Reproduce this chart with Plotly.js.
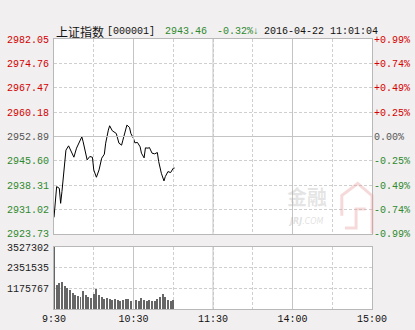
<!DOCTYPE html>
<html>
<head>
<meta charset="utf-8">
<script src="https://cdn.plot.ly/plotly-3.0.1.min.js"></script>
<style>html,body{margin:0;padding:0;background:#f1efef;}#chart{width:415px;height:330px;}</style>
</head>
<body>
<div id="chart"></div>
<script>
// ---- data ----
const priceTimes = ["09:30","09:32","09:34","09:35","09:36","09:38","09:39","09:41","09:43","09:45","09:47","09:49","09:51","09:52","09:54","09:55","09:57","09:59","10:00","10:02","10:04","10:06","10:08","10:09","10:11","10:12","10:14","10:16","10:17","10:19","10:21","10:22","10:24","10:25","10:27","10:28","10:30","10:31","10:33","10:35","10:36","10:38","10:39","10:41","10:42","10:44","10:46","10:48","10:49","10:51","10:53","10:54","10:56","10:58","11:00","11:01"];
const prices = [2928.7,2937.9,2937.4,2932.9,2936.4,2945.9,2948.8,2950.1,2948.3,2946.7,2949.4,2950.9,2952.8,2951.3,2947.9,2945.9,2946.9,2946.7,2942.9,2940.7,2942.9,2946.4,2947.6,2950.9,2954.8,2956.1,2954.6,2954.0,2953.8,2950.9,2950.3,2951.8,2955.3,2956.3,2955.6,2953.8,2952.3,2951.0,2951.1,2949.8,2947.9,2946.5,2949.5,2949.4,2949.6,2947.9,2947.7,2948.1,2945.4,2941.9,2939.6,2940.9,2942.4,2942.1,2943.4,2943.46];
const volTimes = ["09:30","09:32","09:34","09:36","09:38","09:40","09:42","09:44","09:46","09:48","09:50","09:52","09:54","09:56","09:58","10:00","10:02","10:04","10:06","10:08","10:10","10:12","10:14","10:16","10:18","10:20","10:22","10:24","10:26","10:28","10:30","10:32","10:34","10:36","10:38","10:40","10:42","10:44","10:46","10:48","10:50","10:52","10:54","10:56","10:58","11:00"];
const volumes = [3500000,1380000,1480000,1520000,1330000,1190000,1060000,910000,810000,760000,680000,1000000,810000,660000,630000,870000,1160000,810000,660000,590000,630000,570000,530000,570000,510000,470000,530000,590000,570000,470000,460000,510000,470000,640000,530000,460000,490000,440000,470000,570000,680000,840000,680000,530000,460000,490000];
const priceTicks = [2982.05,2974.76,2967.47,2960.18,2952.89,2945.60,2938.31,2931.02,2923.73];
const priceTickText = ["2982.05","2974.76","2967.47","2960.18","2952.89","2945.60","2938.31","2931.02","2923.73"];
const pctTickText = ["+0.99%","+0.74%","+0.49%","+0.25%","0.00%","-0.25%","-0.49%","-0.74%","-0.99%"];
const volTicks = [3527302,2351535,1175767];
const volTickText = ["3527302","2351535","1175767"];
const timeTickVals = [0,30,60,90,120,150,180,210,240];
const timeTickText = ["9:30","","10:30","","11:30","","14:00","","15:00"];
const prevClose = 2952.89;
const headerName = "上证指数";
const headerCode = "[000001]";
const headerPrice = "2943.46";
const headerChange = "-0.32%↓";
const headerTime = "2016-04-22 11:01:04";

// trading minute index (lunch break removed)
function minuteIndex(t){
  const [h,m] = t.split(":").map(Number);
  const mins = h*60+m;
  return mins <= 11*60+30 ? mins-(9*60+30) : 120 + mins-(13*60);
}

const RED="#d40000", GREEN="#2f8a2f", GRAY="#555555";
function colorFor(v){ return Math.abs(v-prevClose)<0.01?GRAY:(v>prevClose?RED:GREEN); }
const leftText = priceTicks.map((v,i)=>`<span style="color:${colorFor(v)}">${priceTickText[i]}</span>`);
const rightText = priceTicks.map((v,i)=>`<span style="color:${colorFor(v)}">${pctTickText[i]}</span>`);

const MONO = "Liberation Mono, DejaVu Sans Mono, monospace";
const GRID = "#cfcfcf", BORDER = "#b8b8b8", SOLID="#c4c4c4";

const traces = [
  {x: priceTimes.map(minuteIndex), y: prices, type:"scatter", mode:"lines",
   line:{color:"#000000", width:1}, xaxis:"x", yaxis:"y", hoverinfo:"skip"},
  {x: priceTimes.map(minuteIndex), y: prices, type:"scatter", mode:"none",
   xaxis:"x", yaxis:"y3", hoverinfo:"skip", showlegend:false},
  {x: volTimes.map(minuteIndex), y: volumes, type:"bar", width:1.5,
   marker:{color:"#666666", line:{width:0}}, xaxis:"x2", yaxis:"y2", hoverinfo:"skip"}
];

const axisX = {range:[0,240], tickmode:"array", tickvals:timeTickVals, ticktext:timeTickText,
  showgrid:true, gridcolor:GRID, griddash:"3px,2px", gridwidth:1, zeroline:false,
  showline:true, linecolor:BORDER, linewidth:1, mirror:true, ticks:"", fixedrange:true};

const pctDomain = [0.2778,1];
const layout = {
  width:415, height:330,
  margin:{l:54, r:43, t:39, b:21, pad:0},
  paper_bgcolor:"#f1efef", plot_bgcolor:"#ffffff",
  showlegend:false,
  font:{family:MONO, size:10, color:"#222222"},
  xaxis: Object.assign({}, axisX, {anchor:"y", showticklabels:false}),
  xaxis2: Object.assign({}, axisX, {anchor:"y2", showticklabels:true,
     tickfont:{family:MONO, size:10, color:"#111111"}}),
  yaxis: {domain:pctDomain, range:[priceTicks[8],priceTicks[0]], tickmode:"array",
    tickvals:priceTicks, ticktext:leftText, showgrid:true, gridcolor:GRID, griddash:"3px,2px",
    zeroline:false, showline:true, linecolor:BORDER, mirror:true, ticks:"", ticklabelstandoff:2,
    tickfont:{family:MONO, size:10}, fixedrange:true},
  yaxis3: {overlaying:"y", side:"right", anchor:"x", range:[priceTicks[8],priceTicks[0]], tickmode:"array",
    tickvals:priceTicks, ticktext:rightText, showgrid:false, zeroline:false, showline:false, ticks:"",
    ticklabelstandoff:1, tickfont:{family:MONO, size:10}, fixedrange:true},
  yaxis2: {domain:[0,0.2296], range:[0,volTicks[0]], tickmode:"array", tickvals:volTicks, ticktext:volTickText,
    showgrid:true, gridcolor:GRID, griddash:"3px,2px", zeroline:false, showline:true, linecolor:BORDER,
    mirror:true, ticks:"", ticklabelstandoff:2, tickfont:{family:MONO, size:10, color:"#222222"}, fixedrange:true},
  bargap:0,
  shapes: [
    {type:"line", xref:"x domain", x0:0, x1:1, yref:"y", y0:prevClose, y1:prevClose, line:{color:SOLID, width:1}},
    ...[60,120,180].map(v=>({type:"line", xref:"x", x0:v, x1:v, yref:"y domain", y0:0, y1:1, line:{color:SOLID, width:1}})),
    ...[60,120,180].map(v=>({type:"line", xref:"x2", x0:v, x1:v, yref:"y2 domain", y0:0, y1:1, line:{color:SOLID, width:1}})),
    {type:"path", xref:"paper", yref:"paper", layer:"above",
     path:"M 0.905 0.345 L 0.905 0.42 L 0.955 0.465 L 1.0 0.42 L 1.0 0.28 M 0.915 0.30 L 0.95 0.30 L 0.95 0.37 L 0.98 0.37",
     line:{color:"rgba(230,150,150,0.35)", width:3}}
  ],
  annotations: [
    {xref:"paper", yref:"paper", x:0, y:1.0296, xanchor:"left", yanchor:"middle", showarrow:false,
     text:headerName, font:{family:"Noto Sans CJK SC", size:12, color:"#111111"}},
    {xref:"paper", yref:"paper", x:0.160, y:1.0296, xanchor:"left", yanchor:"middle", showarrow:false,
     text:headerCode, font:{family:MONO, size:10, color:"#111111"}},
    {xref:"paper", yref:"paper", x:0.343, y:1.0296, xanchor:"left", yanchor:"middle", showarrow:false,
     text:headerPrice, font:{family:MONO, size:10, color:GREEN}},
    {xref:"paper", yref:"paper", x:0.505, y:1.0296, xanchor:"left", yanchor:"middle", showarrow:false,
     text:headerChange, font:{family:MONO, size:10, color:GREEN}},
    {xref:"paper", yref:"paper", x:0.654, y:1.0296, xanchor:"left", yanchor:"middle", showarrow:false,
     text:headerTime, font:{family:MONO, size:10, color:"#111111"}},
    {xref:"paper", yref:"paper", x:0.725, y:0.415, xanchor:"left", yanchor:"middle", showarrow:false,
     text:"<b>金融</b>", font:{family:"Noto Sans CJK SC", size:20, color:"rgba(150,150,150,0.25)"}},
    {xref:"paper", yref:"paper", x:0.73, y:0.325, xanchor:"left", yanchor:"middle", showarrow:false,
     text:"<i><b>JRJ</b>.COM</i>", font:{family:"DejaVu Sans", size:8, color:"rgba(150,150,150,0.3)"}}
  ]
};

Plotly.newPlot("chart", traces, layout, {displayModeBar:false, staticPlot:true});
</script>
</body>
</html>
